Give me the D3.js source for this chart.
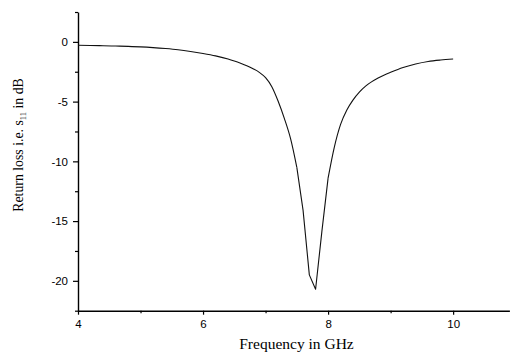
<!DOCTYPE html>
<html><head><meta charset="utf-8">
<script src="https://cdn.jsdelivr.net/npm/d3@7"></script>
<style>body{margin:0;background:#fff}</style>
</head><body>
<svg id="c" width="512" height="352"></svg>
<script>
const freq = [4.0,4.2,4.4,4.6,4.8,5.0,5.2,5.4,5.6,5.8,6.0,6.2,6.4,6.5,6.6,6.7,6.8,6.9,7.0,7.1,7.2,7.3,7.4,7.5,7.6,7.7,7.8,7.9,8.0,8.1,8.2,8.3,8.4,8.5,8.6,8.7,8.8,8.9,9.0,9.2,9.4,9.6,9.8,10.0];
const s11  = [-0.28,-0.30,-0.32,-0.35,-0.38,-0.42,-0.48,-0.56,-0.66,-0.80,-0.97,-1.17,-1.43,-1.6,-1.79,-2.0,-2.25,-2.55,-3.0,-3.75,-4.95,-6.4,-8.1,-10.5,-14.1,-19.5,-20.7,-15.9,-11.4,-8.8,-6.9,-5.7,-4.85,-4.2,-3.7,-3.33,-3.03,-2.77,-2.55,-2.15,-1.85,-1.64,-1.52,-1.44];
const xMajor = [4,6,8,10];
const xMinor = [5,7,9];
const yMajor = [0,-5,-10,-15,-20];
const yMinor = [2.5,-2.5,-7.5,-12.5,-17.5,-22.5];

const SANS = "'Liberation Sans', Arial, sans-serif";
const SERIF = "'Liberation Serif', 'Times New Roman', serif";
const svg = d3.select("#c");
const x = d3.scaleLinear().domain([4,10.9]).range([78,509.4]);
const y = d3.scaleLinear().domain([-22.5,2.5]).range([310.7,12]);
const fmt = d => String(d);

// x axis
const gx = svg.append("g").attr("transform","translate(0,"+y(-22.5)+")");
gx.call(d3.axisBottom(x).tickValues(xMajor).tickSize(4).tickSizeOuter(0).tickFormat(fmt));
gx.append("g").call(d3.axisBottom(x).tickValues(xMinor).tickSize(2.5).tickSizeOuter(0).tickFormat(""))
  .select(".domain").remove();
// y axis
const gy = svg.append("g").attr("transform","translate("+x(4)+",0)");
gy.call(d3.axisLeft(y).tickValues(yMajor).tickSize(5).tickSizeOuter(0).tickFormat(fmt));
gy.append("g").call(d3.axisLeft(y).tickValues(yMinor).tickSize(3).tickSizeOuter(0).tickFormat(""))
  .select(".domain").remove();

svg.selectAll(".domain").attr("stroke","#000").attr("stroke-width",1.4);
svg.selectAll(".tick line").attr("stroke","#000").attr("stroke-width",1.2);
gx.selectAll(".tick text").attr("font-family",SANS).attr("font-size",11.5).attr("fill","#000").attr("dy","0.9em");
gy.selectAll(".tick text").attr("font-family",SANS).attr("font-size",11.5).attr("fill","#000").attr("x",-10);

// line: smooth shoulders, straight segments through the resonance dip
const pts = freq.map((f,i)=>[f,s11[i]]);
const segs = [
  {data: pts.filter(p=>p[0]<=7.5), curve: d3.curveMonotoneX},
  {data: pts.filter(p=>p[0]>=7.5 && p[0]<=8.0), curve: d3.curveLinear},
  {data: pts.filter(p=>p[0]>=8.0), curve: d3.curveMonotoneX}
];
segs.forEach(s=>{
  const line = d3.line().x(p=>x(p[0])).y(p=>y(p[1])).curve(s.curve);
  svg.append("path").datum(s.data).attr("d",line).attr("fill","none")
    .attr("stroke","#111").attr("stroke-width",1.1).attr("stroke-linejoin","round");
});

// titles
svg.append("text").attr("x",296.5).attr("y",349).attr("text-anchor","middle")
  .attr("font-family",SERIF).attr("font-size",15.5).attr("fill","#000")
  .text("Frequency in GHz");
const yt = svg.append("text").attr("transform","translate(23,145) rotate(-90)").attr("text-anchor","middle")
  .attr("font-family",SERIF).attr("font-size",13.8).attr("fill","#000");
yt.append("tspan").text("Return loss i.e. s");
yt.append("tspan").attr("font-size",8.5).attr("dy",3).text("11");
yt.append("tspan").attr("dy",-3).text(" in dB");
</script>
</body></html>
